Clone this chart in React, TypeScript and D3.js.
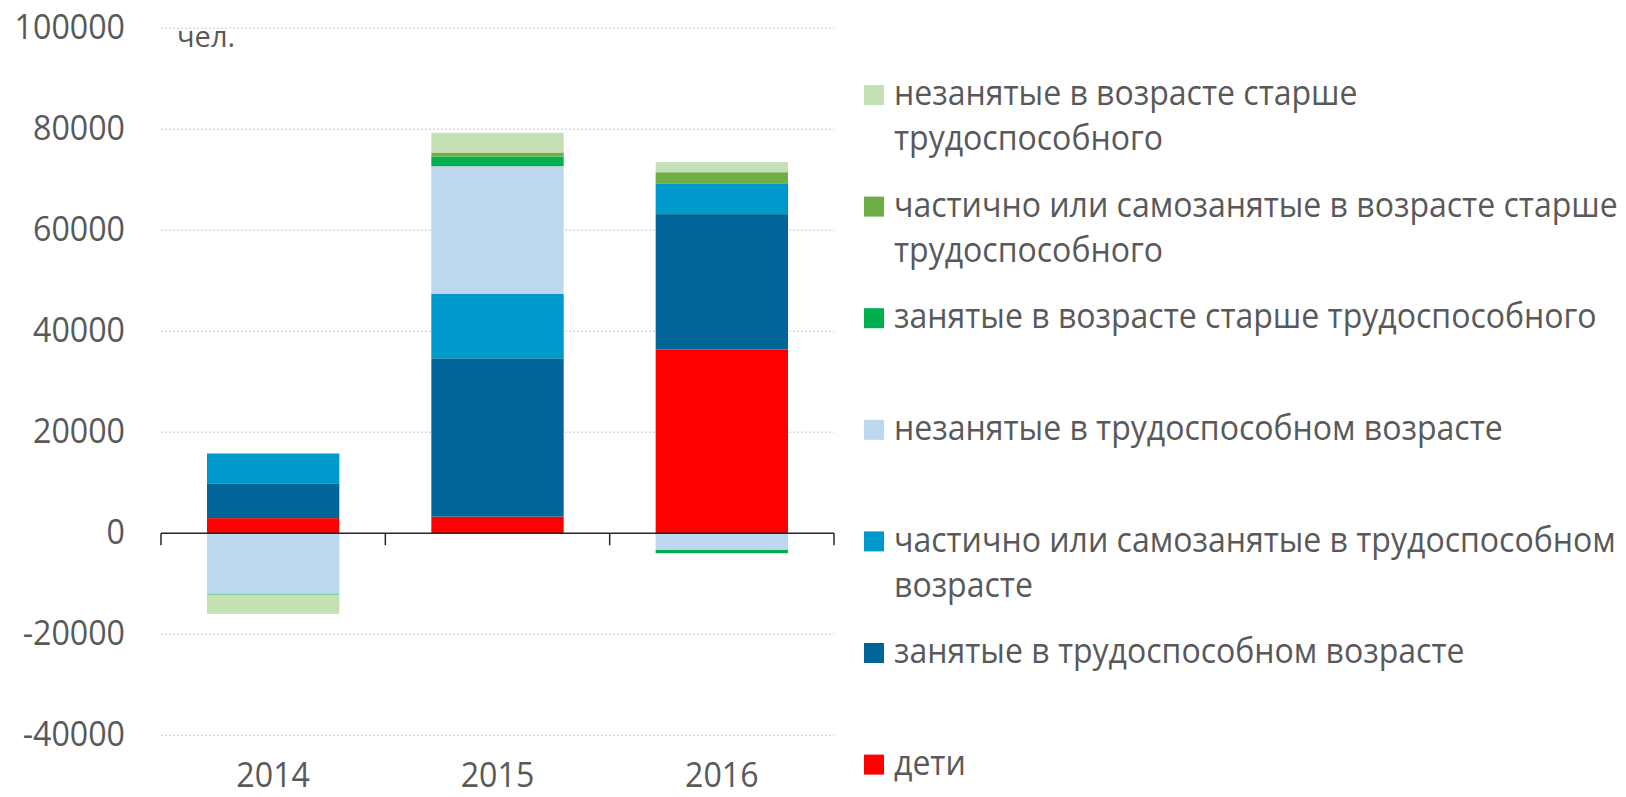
import React from "react";
import * as d3 from "d3";

const years = ["2014", "2015", "2016"];
const seriesNames = [
  "дети",
  "занятые в трудоспособном возрасте",
  "частично или самозанятые в трудоспособном возрасте",
  "незанятые в трудоспособном возрасте",
  "занятые в возрасте старше трудоспособного",
  "частично или самозанятые в возрасте старше трудоспособного",
  "незанятые в возрасте старше трудоспособного",
];
const children = [3000, 3300, 36400];
const employedWorking = [6900, 31350, 26800];
const partialWorking = [5900, 12800, 6100];
const unemployedWorking = [-12000, 25250, -3300];
const employedOlder = [-150, 1900, -650];
const partialOlder = [0, 800, 2200];
const unemployedOlder = [-3800, 3900, 2000];
const seriesColors = ["#FF0000", "#006699", "#0099CC", "#BDD7EE", "#00B050", "#70AD47", "#C5E0B4"];
const legendLines = [
  ["незанятые в возрасте старше", "трудоспособного"],
  ["частично или самозанятые в возрасте старше", "трудоспособного"],
  ["занятые в возрасте старше трудоспособного"],
  ["незанятые в трудоспособном возрасте"],
  ["частично или самозанятые в трудоспособном", "возрасте"],
  ["занятые в трудоспособном возрасте"],
  ["дети"],
];
const legendOrder = [6, 5, 4, 3, 2, 1, 0];
const yTicks = [-40000, -20000, 0, 20000, 40000, 60000, 80000, 100000];
const unitLabel = "чел.";

const W = 1626, H = 797;
const FONT = "'Open Sans', sans-serif";
const TEXT = "#595959";

export default function App() {
  const allSeries = [children, employedWorking, partialWorking, unemployedWorking, employedOlder, partialOlder, unemployedOlder];
  const rows = years.map((y, i) => {
    const r: any = { year: y };
    seriesNames.forEach((n, k) => (r[n] = allSeries[k][i]));
    return r;
  });
  const stack = d3.stack<any>().keys(seriesNames).offset(d3.stackOffsetDiverging);
  const stacked = stack(rows);

  const x = d3.scaleBand().domain(years).range([161, 834]).paddingInner(0.41).paddingOuter(0.205);
  const y = d3.scaleLinear().domain([-40000, 100000]).range([735.3, 28.3]);
  const bw = x.bandwidth();
  const step = x.step();
  const y0 = y(0);

  const fs = 35;
  const lfs = 35;
  const legendX = 864;
  const legendTop = 85;
  const legendStep = 111.6;
  const sw = 20;

  return (
    <svg width={W} height={H} style={{ position: "absolute", left: 0, top: 0, background: "#fff" }} fontFamily={FONT}>
      <rect x={0} y={0} width={W} height={H} fill="#fff" />
      {yTicks.filter((t) => t !== 0).map((t) => (
        <line key={t} x1={161} x2={834} y1={y(t)} y2={y(t)} stroke="#D9D9D9" strokeWidth={1.5} strokeDasharray="2,2" />
      ))}
      {stacked.map((s, k) => (
        <g key={s.key} fill={seriesColors[k]}>
          {s.map((d, i) => {
            const top = y(Math.max(d[0], d[1]));
            const bot = y(Math.min(d[0], d[1]));
            if (bot - top <= 0) return null;
            return <rect key={i} x={x(years[i])!} y={top} width={bw} height={bot - top} />;
          })}
        </g>
      ))}
      <line x1={161} x2={834} y1={y0} y2={y0} stroke="#262626" strokeWidth={1.5} />
      {[0, 1, 2, 3].map((i) => {
        const xx = 161 + i * step;
        return <line key={i} x1={xx} x2={xx} y1={y0} y2={y0 + 12} stroke="#262626" strokeWidth={1.5} />;
      })}
      {yTicks.map((t) => (
        <text key={t} transform={`translate(125,${y(t) - 1.5 + 0.36 * fs}) scale(0.92,1)`} textAnchor="end" fontSize={fs} fill={TEXT}>
          {t}
        </text>
      ))}
      {years.map((yr) => (
        <text key={yr} transform={`translate(${x(yr)! + bw / 2},787) scale(0.92,1)`} textAnchor="middle" fontSize={fs} fill={TEXT}>
          {yr}
        </text>
      ))}
      <text transform={`translate(177,47)`} fontSize={29} fill={TEXT}>{unitLabel}</text>
      {legendOrder.map((k, j) => {
        const top = legendTop + j * legendStep;
        const cy = top + sw / 2;
        return (
          <g key={k}>
            <rect x={legendX} y={top} width={sw} height={sw} fill={seriesColors[k]} />
            {legendLines[j].map((ln, li) => (
              <text key={li} transform={`translate(894,${cy + 0.29 * lfs + li * 45}) scale(0.915,1)`} fontSize={lfs} fill={TEXT}>
                {ln}
              </text>
            ))}
          </g>
        );
      })}
    </svg>
  );
}
